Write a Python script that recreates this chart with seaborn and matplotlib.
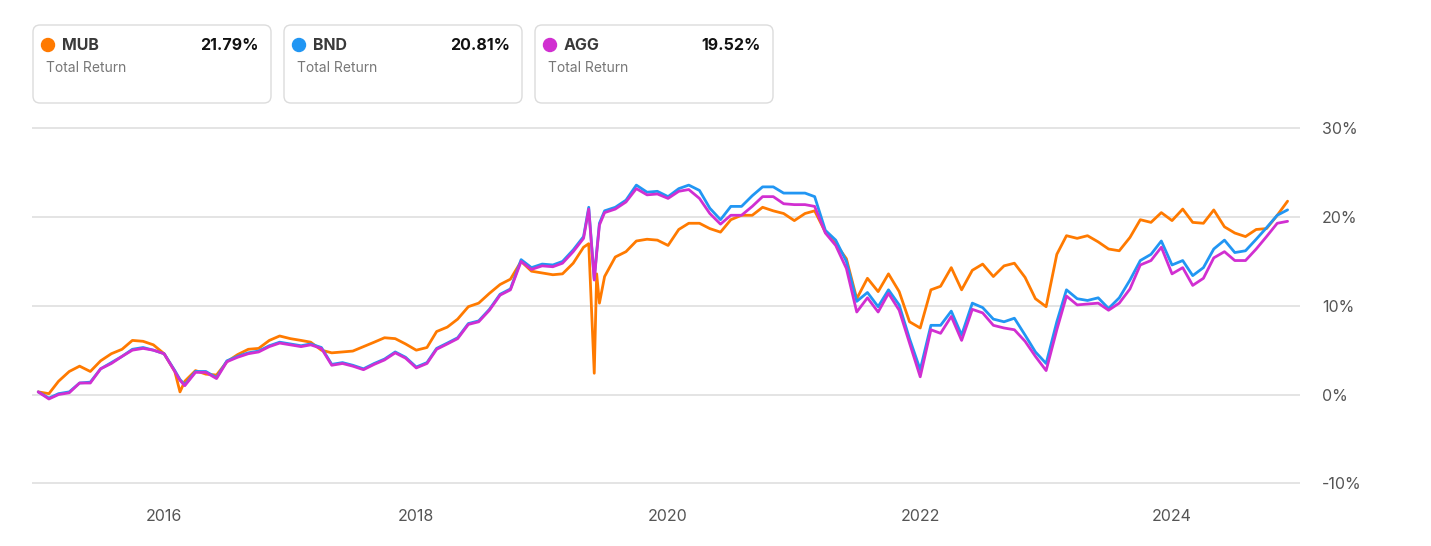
import numpy as np
import pandas as pd
import matplotlib
matplotlib.use('Agg')
import matplotlib.pyplot as plt
from matplotlib.patches import FancyBboxPatch, Circle
from matplotlib.ticker import FuncFormatter
import seaborn as sns

# Fundos comparados e retorno total exibido nos cartoes
fundos = ['MUB', 'BND', 'AGG']
retorno_total = ['21.79%', '20.81%', '19.52%']
cores = ['#FF7A00', '#2196F3', '#D12FD1']

# Retorno acumulado (%) no inicio de cada mes, jan/2015 a dez/2024
meses = pd.date_range('2015-01-01', '2024-12-01', freq='MS')

mub = [0.3, 0.1, 1.5, 2.6, 3.2, 2.6, 3.8, 4.6, 5.1, 6.1, 6.0, 5.6,
       4.6, 2.6, 1.5, 2.7, 2.3, 2.2, 3.7, 4.5, 5.1, 5.2, 6.1, 6.6,
       6.3, 6.1, 5.9, 5.0, 4.7, 4.8, 4.9, 5.4, 5.9, 6.4, 6.3, 5.7,
       5.0, 5.3, 7.1, 7.6, 8.5, 9.9, 10.3, 11.4, 12.4, 13.0, 15.0, 13.9,
       13.7, 13.5, 13.6, 14.8, 16.6, 2.4, 13.3, 15.5, 16.1, 17.3, 17.5, 17.4,
       16.8, 18.6, 19.3, 19.3, 18.7, 18.3, 19.7, 20.2, 20.2, 21.1, 20.7, 20.4,
       19.6, 20.4, 20.7, 18.3, 17.0, 15.3, 10.8, 13.1, 11.6, 13.6, 11.6, 8.2,
       7.5, 11.8, 12.2, 14.3, 11.8, 14.0, 14.7, 13.3, 14.5, 14.8, 13.2, 10.8,
       9.9, 15.8, 17.9, 17.6, 17.9, 17.2, 16.4, 16.2, 17.7, 19.7, 19.4, 20.5,
       19.6, 20.9, 19.4, 19.3, 20.8, 18.9, 18.2, 17.8, 18.6, 18.7, 20.2, 21.79]

bnd = [0.3, -0.4, 0.1, 0.3, 1.3, 1.4, 2.9, 3.6, 4.3, 5.1, 5.3, 5.0,
       4.6, 2.7, 1.1, 2.6, 2.6, 1.9, 3.8, 4.3, 4.7, 4.9, 5.5, 5.9,
       5.7, 5.5, 5.7, 5.3, 3.4, 3.6, 3.3, 2.9, 3.5, 4.0, 4.8, 4.2,
       3.1, 3.6, 5.2, 5.8, 6.4, 8.0, 8.3, 9.6, 11.3, 11.9, 15.2, 14.3,
       14.7, 14.6, 15.0, 16.3, 17.8, 13.0, 20.7, 21.1, 21.9, 23.6, 22.8, 22.9,
       22.3, 23.2, 23.6, 23.0, 21.0, 19.7, 21.2, 21.2, 22.4, 23.4, 23.4, 22.7,
       22.7, 22.7, 22.3, 18.5, 17.4, 15.0, 10.5, 11.5, 9.9, 11.8, 10.1, 6.3,
       2.8, 7.8, 7.8, 9.4, 6.7, 10.3, 9.8, 8.5, 8.2, 8.6, 6.7, 4.8,
       3.5, 8.2, 11.8, 10.8, 10.6, 10.9, 9.7, 10.9, 12.9, 15.1, 15.8, 17.3,
       14.6, 15.1, 13.4, 14.3, 16.4, 17.4, 16.0, 16.2, 17.5, 18.8, 20.2, 20.81]

agg = [0.3, -0.5, 0.0, 0.2, 1.3, 1.3, 2.9, 3.5, 4.3, 5.0, 5.2, 5.0,
       4.6, 2.6, 1.0, 2.5, 2.5, 1.8, 3.7, 4.2, 4.6, 4.8, 5.4, 5.8,
       5.6, 5.4, 5.6, 5.2, 3.3, 3.5, 3.2, 2.8, 3.4, 3.9, 4.7, 4.1,
       3.0, 3.5, 5.1, 5.7, 6.3, 7.9, 8.2, 9.5, 11.2, 11.8, 15.0, 14.1,
       14.5, 14.4, 14.8, 16.1, 17.6, 12.9, 20.5, 20.9, 21.7, 23.2, 22.5, 22.6,
       22.1, 22.9, 23.1, 22.1, 20.4, 19.2, 20.2, 20.2, 21.2, 22.3, 22.3, 21.5,
       21.4, 21.4, 21.2, 18.2, 16.8, 14.2, 9.3, 10.9, 9.3, 11.4, 9.5, 5.8,
       2.0, 7.3, 6.9, 8.8, 6.1, 9.6, 9.2, 7.8, 7.5, 7.3, 6.0, 4.3,
       2.7, 7.3, 11.1, 10.1, 10.2, 10.3, 9.5, 10.3, 11.9, 14.6, 15.1, 16.6,
       13.6, 14.3, 12.3, 13.1, 15.4, 16.1, 15.1, 15.1, 16.4, 17.8, 19.3, 19.52]

# Pontos extras para os movimentos bruscos (fev/2016 e o pico de jun/2019)
datas_extra = pd.to_datetime(['2016-02-16', '2019-05-16', '2019-06-08', '2019-06-16'])
mub_extra = [0.3, 17.0, 13.6, 10.3]
bnd_extra = [1.7, 21.1, 16.1, 19.3]
agg_extra = [1.6, 20.9, 15.9, 19.1]

anos_ticks = ['2016', '2018', '2020', '2022', '2024']
ticks_y = [-10, 0, 10, 20, 30]

# Montando a base no formato longo para o seaborn
partes = []
for nome, vals, extra in zip(fundos, [mub, bnd, agg], [mub_extra, bnd_extra, agg_extra]):
    d = pd.DataFrame({'Data': list(meses) + list(datas_extra), 'Retorno': vals + extra})
    d['Fundo'] = nome
    partes.append(d)
df = pd.concat(partes, ignore_index=True).sort_values('Data')

sns.set_theme(style='white')
plt.rcParams['font.family'] = ['Inter', 'DejaVu Sans']

W, H = 1431, 546
fig = plt.figure(figsize=(W / 100, H / 100), dpi=100)

# eixo: x de 32 a 1300 px, y de -10% (483 px) a 30% (128 px)
px1 = 8.875  # pixels por ponto percentual
y_lo, y_hi = -10.15, 30.15
topo = 128.3 - 0.15 * px1
base = 483.3 + 0.15 * px1
ax = fig.add_axes([32 / W, 1 - base / H, 1268 / W, (base - topo) / H])

sns.lineplot(data=df, x='Data', y='Retorno', hue='Fundo', hue_order=fundos,
             palette=cores, linewidth=2.0, legend=False, estimator=None, ax=ax)

ax.set_xlim(pd.Timestamp('2014-12-14'), pd.Timestamp('2025-01-06'))
ax.set_ylim(y_lo, y_hi)
ax.set_axisbelow(True)
ax.grid(axis='y', color='#e2e2e2', linewidth=1.3)
ax.grid(axis='x', visible=False)
for s in ax.spines.values():
    s.set_visible(False)

ax.yaxis.tick_right()
ax.set_yticks(ticks_y)
ax.yaxis.set_major_formatter(FuncFormatter(lambda v, p: f'{v:.0f}%'))
ax.set_xticks([pd.Timestamp(a + '-01-01') for a in anos_ticks])
ax.set_xticklabels(anos_ticks)
ax.tick_params(axis='x', length=9.5, width=1.2, color='#d9d9d9', pad=8,
               labelsize=11.5, labelcolor='#555555')
ax.tick_params(axis='y', length=0, pad=16, labelsize=11.5, labelcolor='#555555')
ax.set_xlabel('')
ax.set_ylabel('')

# Cartoes de legenda no topo
for i, (nome, ret, cor) in enumerate(zip(fundos, retorno_total, cores)):
    x0 = 33 + i * 251
    card = FancyBboxPatch((x0 / 100, (H - 103) / 100), 2.38, 0.78,
                          boxstyle='round,pad=0,rounding_size=0.07',
                          transform=fig.dpi_scale_trans, facecolor='white',
                          edgecolor='#dcdcdc', linewidth=1.0)
    fig.patches.append(card)
    fig.patches.append(Circle(((x0 + 15) / 100, (H - 45) / 100), 0.065,
                              transform=fig.dpi_scale_trans, color=cor))
    fig.text((x0 + 29) / 100, (H - 45) / 100, nome, transform=fig.dpi_scale_trans,
             fontsize=11.5, fontweight='bold', color='#3a3a3a', va='center', ha='left')
    fig.text((x0 + 226) / 100, (H - 45) / 100, ret, transform=fig.dpi_scale_trans,
             fontsize=11.5, fontweight='bold', color='#111111', va='center', ha='right')
    fig.text((x0 + 13) / 100, (H - 68) / 100, 'Total Return', transform=fig.dpi_scale_trans,
             fontsize=10, color='#777777', va='center', ha='left')

fig.savefig('out.png', dpi=100)
